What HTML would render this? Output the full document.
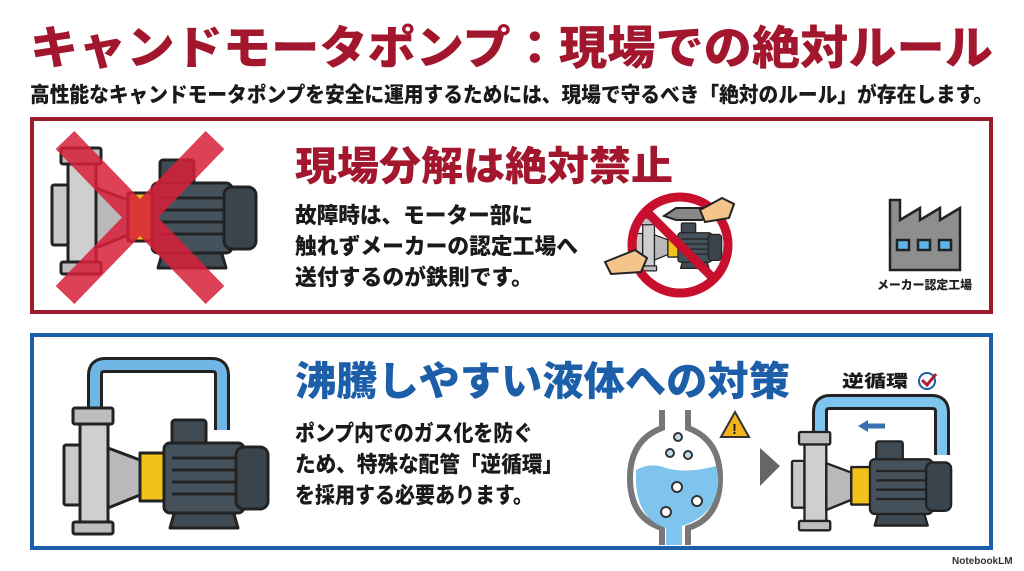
<!DOCTYPE html>
<html><head><meta charset="utf-8"><style>
html,body{margin:0;padding:0;background:#fff}
svg{display:block}
text{font-family:"Liberation Sans","Noto Sans CJK JP",sans-serif;font-weight:900}
</style></head><body>
<svg width="1024" height="571" viewBox="0 0 1024 571" xmlns="http://www.w3.org/2000/svg">
<defs>
<g id="pump" stroke="#222" stroke-width="3" stroke-linejoin="round">
  <rect x="64" y="445" width="16" height="60" rx="2" fill="#c9c9c9"/>
  <path d="M80 420 h28 v110 h-28 z" fill="#cfcfcf"/>
  <rect x="73" y="408" width="40" height="16" rx="2" fill="#bdbdbd"/>
  <rect x="73" y="522" width="40" height="12" rx="2" fill="#bdbdbd"/>
  <path d="M108 448 L140 460 V495 L108 508 Z" fill="#b9b9b9"/>
  <rect x="140" y="453" width="26" height="48" fill="#f2c21b"/>
  <rect x="172" y="420" width="34" height="28" rx="3" fill="#3f4a52"/>
  <path d="M178 500 h52 l8 28 h-68 z" fill="#3f4a52"/>
  <rect x="164" y="443" width="80" height="70" rx="6" fill="#46525b"/>
  <rect x="236" y="447" width="32" height="62" rx="8" fill="#3a444c"/>
  <g stroke-width="3"><line x1="172" y1="458" x2="236" y2="458"/><line x1="172" y1="470" x2="236" y2="470"/><line x1="172" y1="482" x2="236" y2="482"/><line x1="172" y1="494" x2="236" y2="494"/></g>
</g>
</defs>

<text x="30" y="64" font-size="46" fill="#a3172e" textLength="963" lengthAdjust="spacingAndGlyphs">キャンドモータポンプ：現場での絶対ルール</text>
<text x="30" y="102" font-size="21" fill="#1a1a1a" textLength="963" lengthAdjust="spacingAndGlyphs">高性能なキャンドモータポンプを安全に運用するためには、現場で守るべき「絶対のルール」が存在します。</text>

<rect x="32" y="119" width="959" height="193" fill="#fff" stroke="#9b1b2e" stroke-width="4"/>
<rect x="32" y="335" width="959" height="213" fill="#fff" stroke="#1d5ea8" stroke-width="4"/>

<!-- red panel pump -->
<g transform="translate(-12,-260)"><use href="#pump"/></g>
<g stroke="#d8203a" stroke-width="26" opacity="0.85">
<line x1="65" y1="140" x2="215" y2="295"/><line x1="215" y1="140" x2="65" y2="295"/></g>

<text x="295" y="180" font-size="40" fill="#a3172e" textLength="378" lengthAdjust="spacingAndGlyphs">現場分解は絶対禁止</text>
<text x="295" y="223" font-size="22" fill="#1a1a1a" textLength="238" lengthAdjust="spacingAndGlyphs">故障時は、モーター部に</text>
<text x="295" y="254" font-size="22" fill="#1a1a1a" textLength="283" lengthAdjust="spacingAndGlyphs">触れずメーカーの認定工場へ</text>
<text x="295" y="285" font-size="22" fill="#1a1a1a" textLength="238" lengthAdjust="spacingAndGlyphs">送付するのが鉄則です。</text>

<!-- no sign -->
<g transform="translate(636,218) scale(0.42) translate(-64,-408)"><use href="#pump"/></g>
<circle cx="680" cy="245" r="48" fill="none" stroke="#c8102e" stroke-width="9"/>
<line x1="646" y1="211" x2="714" y2="279" stroke="#c8102e" stroke-width="9"/>
<path d="M664 216 l12 -8 h30 l6 6 l-10 6 h-26z" fill="#888" stroke="#222" stroke-width="2"/>
<path d="M700 210 l22 -12 l12 6 l-5 14 l-24 4z" fill="#f3c58b" stroke="#222" stroke-width="2"/>
<path d="M605 262 l30 -12 l12 8 l-6 14 l-30 2z" fill="#f3c58b" stroke="#222" stroke-width="2"/>

<!-- factory -->
<g stroke="#222" stroke-width="2.5" fill="#8e8e8e">
<path d="M890 270 V200 h10 v20 l20 -12 v12 l20 -12 v12 l20 -12 v62 z"/>
<rect x="897" y="240" width="12" height="10" fill="#5db4e8"/><rect x="918" y="240" width="12" height="10" fill="#5db4e8"/><rect x="939" y="240" width="12" height="10" fill="#5db4e8"/>
</g>
<text x="877" y="289" font-size="12" fill="#222" textLength="95" lengthAdjust="spacingAndGlyphs">メーカー認定工場</text>

<!-- blue panel left pump -->
<path d="M95 410 V375 q0 -10 10 -10 H212 q10 0 10 10 V430" fill="none" stroke="#222" stroke-width="16"/>
<path d="M95 410 V375 q0 -10 10 -10 H212 q10 0 10 10 V430" fill="none" stroke="#6fb6e4" stroke-width="10"/>
<use href="#pump"/>

<text x="295" y="395" font-size="40" fill="#1d5ea8" textLength="495" lengthAdjust="spacingAndGlyphs">沸騰しやすい液体への対策</text>
<text x="295" y="441" font-size="22" fill="#1a1a1a" textLength="238" lengthAdjust="spacingAndGlyphs">ポンプ内でのガス化を防ぐ</text>
<text x="295" y="472" font-size="22" fill="#1a1a1a" textLength="268" lengthAdjust="spacingAndGlyphs">ため、特殊な配管「逆循環」</text>
<text x="295" y="503" font-size="22" fill="#1a1a1a" textLength="238" lengthAdjust="spacingAndGlyphs">を採用する必要あります。</text>

<!-- flask -->
<path d="M662 410 V428 q-32 12 -32 50 q0 40 32 50 V545 M688 410 V428 q32 12 32 50 q0 40 -32 50 V545" fill="none" stroke="#777" stroke-width="6"/>
<path d="M636 470 q15 -8 30 -2 q20 6 50 -2 q3 10 2 20 q-4 30 -36 40 V545 h-16 V528 q-32 -10 -30 -56z" fill="#7ec4ec"/>
<g fill="#fff" stroke="#333" stroke-width="2"><circle cx="677" cy="487" r="5"/><circle cx="697" cy="501" r="5"/><circle cx="666" cy="512" r="5"/><circle cx="670" cy="453" r="4" fill="#bde"/><circle cx="688" cy="455" r="4" fill="#bde"/><circle cx="678" cy="437" r="4" fill="#bde"/></g>
<path d="M735 412 l14 25 h-28z" fill="#f2b31b" stroke="#333" stroke-width="2"/>
<text x="732" y="434" font-size="15" fill="#222">!</text>
<path d="M760 448 L780 466 L760 486Z" fill="#666"/>

<!-- right pump -->
<text x="842" y="387" font-size="17" fill="#1a1a1a" textLength="66" lengthAdjust="spacingAndGlyphs">逆循環</text>
<circle cx="927" cy="381" r="8" fill="none" stroke="#1d5ea8" stroke-width="2"/>
<path d="M922 380 l5 5 l9 -11" fill="none" stroke="#b01c34" stroke-width="3"/>
<path d="M820 440 V412 q0 -10 10 -10 H932 q10 0 10 10 V455" fill="none" stroke="#222" stroke-width="16"/>
<path d="M820 440 V412 q0 -10 10 -10 H932 q10 0 10 10 V455" fill="none" stroke="#7ec4ec" stroke-width="10"/>
<path d="M885 426 h-22" stroke="#3a6fb0" stroke-width="5"/><path d="M858 426 l10 -6 v12z" fill="#3a6fb0"/>
<g transform="translate(792,432) scale(0.78) translate(-64,-408)"><use href="#pump"/></g>

<text x="952" y="564" font-size="10" fill="#333" font-weight="700">NotebookLM</text>
</svg>
</body></html>
